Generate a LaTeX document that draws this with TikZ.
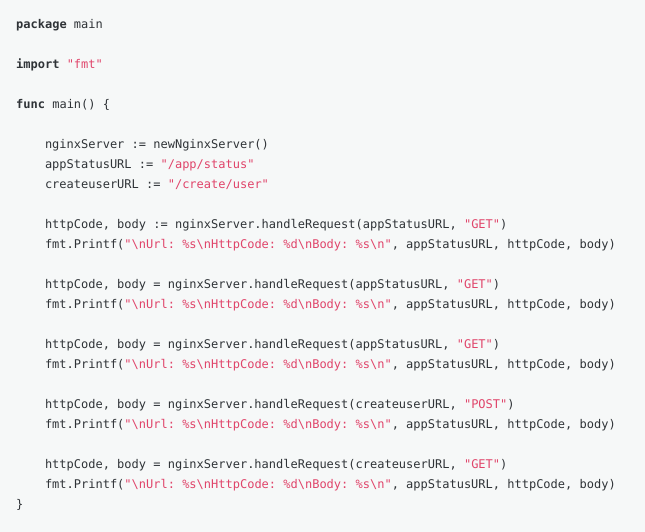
\documentclass[tikz,border=0pt]{standalone}
\usepackage{fontspec}
\setmonofont{DejaVu Sans Mono}
\definecolor{codebg}{HTML}{F6F8F8}
\definecolor{codefg}{HTML}{2F3337}
\definecolor{codestr}{HTML}{E0446A}
\newcommand{\gostr}[1]{\textcolor{codestr}{#1}}
\newcommand{\gokw}[1]{\textbf{#1}}
\newcommand{\bs}{\textbackslash}
\tikzset{
  codeline/.style={anchor=mid west, inner sep=0pt, text=codefg, yshift=-2.5pt,
    font=\ttfamily\fontsize{12}{14}\selectfont}
}
\begin{document}
\begin{tikzpicture}[x=1pt, y=-1pt]
\fill[codebg] (0,0) rectangle (645,532);
\useasboundingbox (0,0) rectangle (645,532);
% header
\node[codeline] (lpkg) at (16,24) {\gokw{package} main};
\node[codeline] (limp) at (16,64) {\gokw{import} \gostr{"fmt"}};
\node[codeline] (lfunc) at (16,104) {\gokw{func} main() \{};
% setup
\node[codeline] (lsrv) at (44.8,144) {nginxServer := newNginxServer()};
\node[codeline] (lapp) at (44.8,164) {appStatusURL := \gostr{"/app/status"}};
\node[codeline] (lusr) at (44.8,184) {createuserURL := \gostr{"/create/user"}};
% requests
\node[codeline] (lreq1) at (44.8,224) {httpCode, body := nginxServer.handleRequest(appStatusURL, \gostr{"GET"})};
\node[codeline] (lprt1) at (44.8,244) {fmt.Printf(\gostr{"\bs nUrl: \%s\bs nHttpCode: \%d\bs nBody: \%s\bs n"}, appStatusURL, httpCode, body)};
\node[codeline] (lreq2) at (44.8,284) {httpCode, body = nginxServer.handleRequest(appStatusURL, \gostr{"GET"})};
\node[codeline] (lprt2) at (44.8,304) {fmt.Printf(\gostr{"\bs nUrl: \%s\bs nHttpCode: \%d\bs nBody: \%s\bs n"}, appStatusURL, httpCode, body)};
\node[codeline] (lreq3) at (44.8,344) {httpCode, body = nginxServer.handleRequest(appStatusURL, \gostr{"GET"})};
\node[codeline] (lprt3) at (44.8,364) {fmt.Printf(\gostr{"\bs nUrl: \%s\bs nHttpCode: \%d\bs nBody: \%s\bs n"}, appStatusURL, httpCode, body)};
\node[codeline] (lreq4) at (44.8,404) {httpCode, body = nginxServer.handleRequest(createuserURL, \gostr{"POST"})};
\node[codeline] (lprt4) at (44.8,424) {fmt.Printf(\gostr{"\bs nUrl: \%s\bs nHttpCode: \%d\bs nBody: \%s\bs n"}, appStatusURL, httpCode, body)};
\node[codeline] (lreq5) at (44.8,464) {httpCode, body = nginxServer.handleRequest(createuserURL, \gostr{"GET"})};
\node[codeline] (lprt5) at (44.8,484) {fmt.Printf(\gostr{"\bs nUrl: \%s\bs nHttpCode: \%d\bs nBody: \%s\bs n"}, appStatusURL, httpCode, body)};
\node[codeline] (lend) at (16,504) {\}};
\end{tikzpicture}
\end{document}
